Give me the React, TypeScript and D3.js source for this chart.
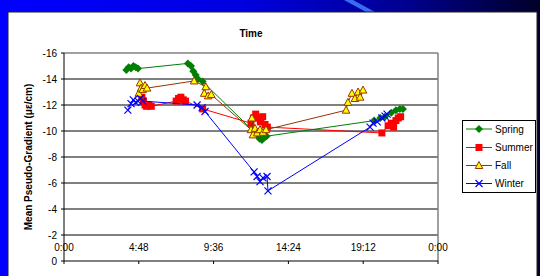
import * as d3 from "d3";

const W = 540, H = 276;
const plot = { left: 64, right: 438, top: 53, bottom: 261 };

// time of day in hours, mean pseudo-gradient values
const springTime = [4.0, 4.15, 4.3, 4.45, 4.6, 4.75, 7.95, 8.15, 8.3, 8.45, 8.6, 8.9, 12.4, 12.55, 12.7, 12.85, 13.0, 19.9, 20.3, 20.6, 21.0, 21.3, 21.55, 21.75];
const springVal = [-14.7, -14.9, -14.8, -15.0, -14.9, -14.8, -15.2, -15.0, -14.6, -14.3, -14.0, -13.8, -9.7, -9.4, -9.3, -9.5, -9.6, -10.8, -11.0, -11.1, -11.4, -11.6, -11.7, -11.7];

const summerTime = [5.0, 5.1, 5.2, 5.3, 5.45, 5.6, 7.2, 7.35, 7.5, 7.65, 7.8, 8.9, 12.0, 12.15, 12.3, 12.45, 12.6, 12.75, 12.9, 13.05, 20.4, 20.8, 21.0, 21.15, 21.3, 21.45, 21.6];
const summerVal = [-12.6, -12.3, -12.0, -11.9, -12.0, -11.9, -12.3, -12.5, -12.6, -12.4, -12.3, -11.7, -10.6, -11.0, -11.3, -11.0, -10.7, -11.1, -10.5, -10.3, -9.85, -10.4, -10.6, -10.3, -10.8, -11.0, -11.1];

const fallTime = [4.8, 4.88, 4.95, 5.05, 5.2, 5.33, 8.35, 9.1, 9.0, 9.25, 9.45, 12.0, 12.06, 12.13, 12.26, 12.4, 12.58, 12.77, 12.96, 18.1, 18.22, 18.48, 18.67, 18.87, 19.0, 19.19];
const fallVal = [-12.9, -13.7, -13.3, -13.2, -13.5, -13.3, -13.85, -13.4, -12.9, -12.7, -12.8, -10.1, -11.0, -9.7, -10.2, -9.85, -10.1, -9.9, -10.1, -11.6, -12.2, -12.9, -12.5, -13.0, -12.6, -13.15];

const winterTime = [4.1, 4.3, 4.45, 4.6, 4.75, 4.9, 5.05, 8.54, 8.86, 9.05, 12.2, 12.39, 12.58, 12.77, 13.03, 13.09, 19.64, 19.83, 20.1, 20.4, 20.6, 20.73];
const winterVal = [-11.6, -12.1, -12.4, -12.2, -12.3, -12.5, -12.3, -12.0, -11.8, -11.5, -6.85, -6.5, -6.1, -6.4, -6.5, -5.4, -10.3, -10.6, -10.7, -11.0, -11.15, -11.3];

const seriesNames = ["Spring", "Summer", "Fall", "Winter"];
const xTicks = [0, 4.8, 9.6, 14.4, 19.2, 24];
const xTickLabels = ["0:00", "4:48", "9:36", "14:24", "19:12", "0:00"];
const yTicks = [-16, -14, -12, -10, -8, -6, -4, -2, 0];

const font = "'Liberation Sans', Arial, sans-serif";

const x = d3.scaleLinear().domain([0, 24]).range([plot.left, plot.right]);
const y = d3.scaleLinear().domain([-16, 0]).range([plot.top, plot.bottom]);

const series = [
  { name: seriesNames[0], t: springTime, v: springVal, stroke: "#008000", fill: "#008000", mark: "diamond" },
  { name: seriesNames[1], t: summerTime, v: summerVal, stroke: "#ff0000", fill: "#ff0000", mark: "square" },
  { name: seriesNames[2], t: fallTime, v: fallVal, stroke: "#993300", fill: "#ffff00", mark: "triangle" },
  { name: seriesNames[3], t: winterTime, v: winterVal, stroke: "#0000ff", fill: "none", mark: "x" },
];

const Marker = ({ kind, cx, cy, stroke, fill }: any) => {
  if (kind === "diamond")
    return <path d={`M${cx},${cy - 4}L${cx + 4},${cy}L${cx},${cy + 4}L${cx - 4},${cy}Z`} fill={fill} />;
  if (kind === "square")
    return <rect x={cx - 3.5} y={cy - 3.5} width={7} height={7} fill={fill} />;
  if (kind === "triangle")
    return <path d={`M${cx},${cy - 4}L${cx + 3.8},${cy + 3}L${cx - 3.8},${cy + 3}Z`} fill={fill} stroke={stroke} strokeWidth={1} />;
  return <path d={`M${cx - 3.5},${cy - 3.5}L${cx + 3.5},${cy + 3.5}M${cx + 3.5},${cy - 3.5}L${cx - 3.5},${cy + 3.5}`} stroke={stroke} strokeWidth={1.2} fill="none" />;
};

export default function App() {
  const line = d3.line<[number, number]>().x((d) => x(d[0])).y((d) => y(d[1]));
  const legendY = [129, 147.5, 165.5, 183.5];

  return (
    <svg width={W} height={H} style={{ position: "absolute", left: 0, top: 0 }} fontFamily={font}>
      <defs>
        <linearGradient id="bg" x1="0" x2="1" y1="0" y2="0">
          <stop offset="0" stopColor="#0000ff" />
          <stop offset="0.45" stopColor="#0000e0" />
          <stop offset="0.75" stopColor="#000090" />
          <stop offset="1" stopColor="#000028" />
        </linearGradient>
      </defs>
      <rect x={0} y={0} width={W} height={H} fill="url(#bg)" />
      <path d="M344,0L353,0L375,12L366,12Z" fill="#3a6cf0" />
      <rect x={8} y={12} width={529} height={270} fill="#ffffff" stroke="#222" strokeWidth={1} />

      <text x={(plot.left + plot.right) / 2} y={37} textAnchor="middle" fontSize={10} fontWeight="bold">Time</text>
      <text transform={`translate(32,${(plot.top + plot.bottom) / 2}) rotate(-90)`} textAnchor="middle" fontSize={10} fontWeight="bold">
        Mean Pseudo-Gradient (με/cm)
      </text>

      {/* gridlines */}
      {yTicks.filter((t) => t > -16 && t < 0).map((t) => (
        <line key={t} x1={plot.left} x2={plot.right} y1={y(t)} y2={y(t)} stroke="#000" strokeWidth={1} />
      ))}
      <line x1={plot.left} x2={plot.right} y1={y(-16)} y2={y(-16)} stroke="#808080" strokeWidth={1.5} />
      <line x1={plot.right} x2={plot.right} y1={y(-16)} y2={y(0)} stroke="#808080" strokeWidth={1.5} />

      {/* axes */}
      <line x1={plot.left} x2={plot.left} y1={y(-16)} y2={y(0)} stroke="#000" strokeWidth={1} />
      <line x1={plot.left} x2={plot.right} y1={y(0)} y2={y(0)} stroke="#000" strokeWidth={1} />
      {yTicks.map((t) => (
        <g key={t}>
          <line x1={plot.left - 3} x2={plot.left} y1={y(t)} y2={y(t)} stroke="#000" />
          <text x={plot.left - 7} y={y(t) + 3.5} textAnchor="end" fontSize={10}>{t}</text>
        </g>
      ))}
      {xTicks.map((t, i) => (
        <g key={i}>
          <line x1={x(t)} x2={x(t)} y1={y(0)} y2={y(0) + 3} stroke="#000" />
          <text x={x(t)} y={251} textAnchor="middle" fontSize={10}>{xTickLabels[i]}</text>
        </g>
      ))}

      {/* series */}
      {series.map((s) => {
        const pts = s.t.map((t, i) => [t, s.v[i]] as [number, number]);
        return (
          <g key={s.name}>
            <path d={line(pts) || ""} fill="none" stroke={s.stroke} strokeWidth={1} />
            {pts.map((p, i) => (
              <Marker key={i} kind={s.mark} cx={x(p[0])} cy={y(p[1])} stroke={s.stroke} fill={s.fill} />
            ))}
          </g>
        );
      })}

      {/* legend */}
      <rect x={462.5} y={120.5} width={73} height={72} fill="#fff" stroke="#000" strokeWidth={1} />
      {series.map((s, i) => (
        <g key={s.name}>
          <line x1={466} x2={492} y1={legendY[i]} y2={legendY[i]} stroke={s.stroke} strokeWidth={1} />
          <Marker kind={s.mark} cx={479} cy={legendY[i]} stroke={s.stroke} fill={s.fill} />
          <text x={495} y={legendY[i] + 3.5} fontSize={10}>{s.name}</text>
        </g>
      ))}
    </svg>
  );
}
